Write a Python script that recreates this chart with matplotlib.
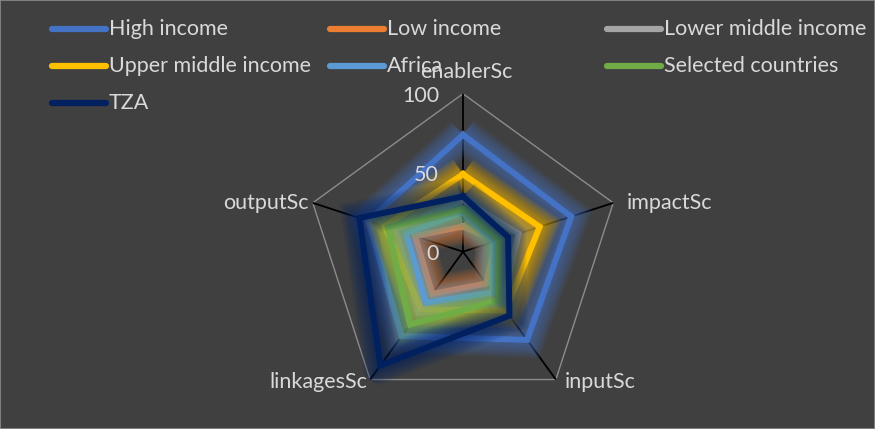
import numpy as np
import matplotlib
matplotlib.use("Agg")
import matplotlib.pyplot as plt
from matplotlib.lines import Line2D
from matplotlib.patches import Rectangle

# Radar axes and series scores
axes_names = ["enablerSc", "impactSc", "inputSc", "linkagesSc", "outputSc"]
series_names = ["High income", "Low income", "Lower middle income",
                "Upper middle income", "Africa", "Selected countries", "TZA"]
high_income = [74, 72, 69, 66, 63]
low_income = [16, 22, 25, 33, 32]
lower_middle_income = [33, 37, 42, 48, 45]
upper_middle_income = [49, 51, 46, 45, 52]
africa = [25, 20, 32, 40, 38]
selected_countries = [27, 24, 38, 57, 50]
tza = [35, 30, 50, 89, 69]
series_values = [high_income, low_income, lower_middle_income,
                 upper_middle_income, africa, selected_countries, tza]
series_colors = ["#4472C4", "#ED7D31", "#A5A5A5", "#FFC000",
                 "#5B9BD5", "#70AD47", "#002060"]
scale_ticks = [0, 50, 100]

BG = "#404040"
TXT = "#D9D9D9"
FONT = "Lato"
FS = 15.5

fig = plt.figure(figsize=(8.75, 4.29), dpi=100, facecolor=BG)
fig.add_artist(Rectangle((0, 0), 1, 1, transform=fig.transFigure,
                         facecolor="none", edgecolor="#8C8C8C", lw=1.2))

W, H = 875, 429
cx, cy, R = 463, 251.7, 158
ax = fig.add_axes([(cx - R) / W, (H - cy - R) / H, 2 * R / W, 2 * R / H],
                  projection="polar")
ax.set_facecolor("none")
ax.set_theta_offset(np.pi / 2)
ax.set_theta_direction(-1)
ax.set_ylim(0, 100)
ax.axis("off")

n = len(axes_names)
theta = np.arange(n) * 2 * np.pi / n
theta_c = np.append(theta, theta[0])

# outer gridline ring and spokes
ax.plot(theta_c, [scale_ticks[-1]] * (n + 1), color="#8C8C8C", lw=1.0, zorder=1)
for t in theta:
    ax.plot([t, t], [0, 100], color="black", lw=1.3, zorder=1.5)

# series with a soft glow around each outline
z = 2
for name, vals, col in zip(series_names, series_values, series_colors):
    v = np.append(vals, vals[0])
    for lw in np.linspace(26, 6, 11):
        ax.plot(theta_c, v, color=col, lw=lw, alpha=0.075, zorder=z,
                solid_joinstyle="miter", solid_capstyle="butt")
    ax.plot(theta_c, v, color=col, lw=4.3, zorder=z + 0.5,
            solid_joinstyle="miter")
    z += 1

# category labels
label_offsets = [((3, 22), "center"), ((13, 0), "left"), ((9, -2), "left"),
                 ((-3, -2), "right"), ((-4, 0), "right")]
for t, name, (off, ha) in zip(theta, axes_names, label_offsets):
    ax.annotate(name, xy=(t, 100), xytext=off, textcoords="offset pixels",
                ha=ha, va="center", color=TXT, fontsize=FS, family=FONT,
                zorder=30)

# value scale labels along the first spoke
for t in scale_ticks:
    ax.annotate(str(t), xy=(0, t), xytext=(-24, -2), textcoords="offset pixels",
                ha="right", va="center", color=TXT, fontsize=FS, family=FONT,
                zorder=30)

# legend: three columns of thick line swatches
col_x = [52, 330, 607]
row_y = [29, 66, 103]
for i, (name, col) in enumerate(zip(series_names, series_colors)):
    x0 = col_x[i % 3]
    y0 = row_y[i // 3]
    fig.add_artist(Line2D([x0 / W, (x0 + 54) / W], [1 - y0 / H, 1 - y0 / H],
                          transform=fig.transFigure, color=col, lw=4.5,
                          solid_capstyle="round", zorder=40))
    fig.text((x0 + 57) / W, 1 - y0 / H, name, ha="left", va="center",
             color=TXT, fontsize=FS, family=FONT, zorder=41)

fig.savefig("out.png", dpi=100, facecolor=BG)
